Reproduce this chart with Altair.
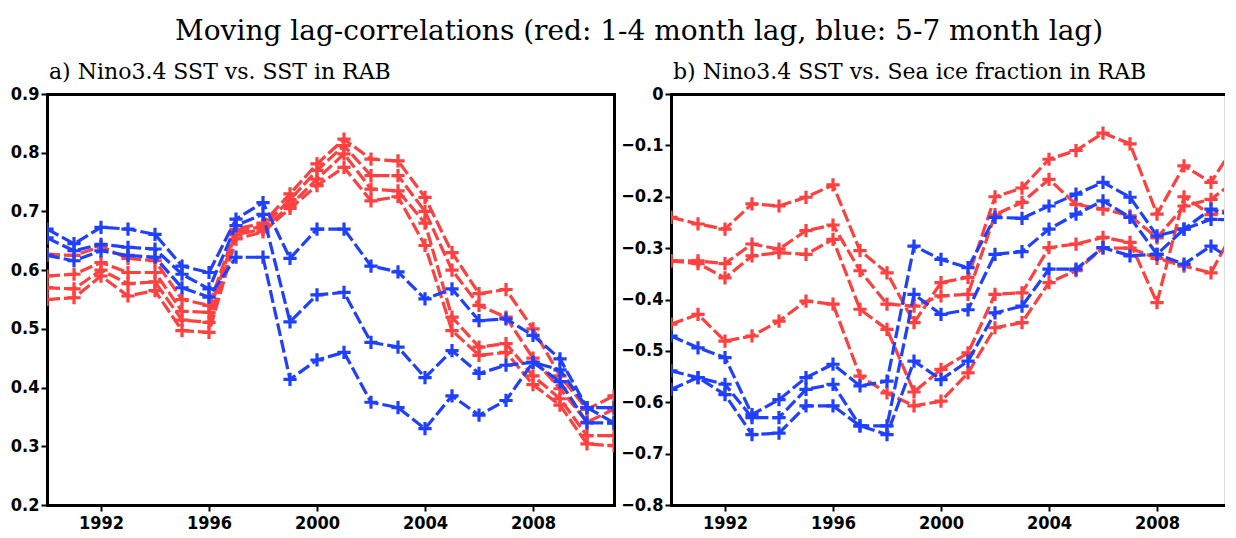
import altair as alt
import pandas as pd

years = list(range(1990, 2012))

# Panel a: Nino3.4 SST vs. SST in RAB  (red: 1-4 month lag)
a_red_1 = [0.627, 0.625, 0.640, 0.620, 0.616, 0.550, 0.540, 0.670, 0.680, 0.730, 0.781, 0.823, 0.789, 0.786, 0.724, 0.630, 0.560, 0.567, 0.500, 0.420, 0.363, 0.386]
a_red_2 = [0.590, 0.593, 0.613, 0.596, 0.596, 0.530, 0.528, 0.665, 0.675, 0.720, 0.770, 0.812, 0.761, 0.761, 0.700, 0.600, 0.540, 0.520, 0.450, 0.398, 0.341, 0.363]
a_red_3 = [0.570, 0.568, 0.600, 0.577, 0.580, 0.515, 0.511, 0.660, 0.670, 0.710, 0.755, 0.798, 0.738, 0.735, 0.680, 0.520, 0.469, 0.475, 0.420, 0.381, 0.318, 0.318]
a_red_4 = [0.550, 0.553, 0.590, 0.556, 0.565, 0.497, 0.494, 0.653, 0.665, 0.705, 0.744, 0.775, 0.718, 0.725, 0.642, 0.497, 0.455, 0.460, 0.405, 0.370, 0.304, 0.301]
# (blue: 5-7 month lag)
a_blue_1 = [0.670, 0.645, 0.673, 0.670, 0.661, 0.607, 0.596, 0.687, 0.715, 0.620, 0.670, 0.670, 0.607, 0.597, 0.551, 0.568, 0.514, 0.517, 0.489, 0.449, 0.366, 0.366]
a_blue_2 = [0.655, 0.633, 0.644, 0.639, 0.636, 0.593, 0.568, 0.676, 0.695, 0.512, 0.558, 0.562, 0.477, 0.469, 0.417, 0.463, 0.424, 0.438, 0.443, 0.430, 0.366, 0.340]
a_blue_3 = [0.625, 0.616, 0.633, 0.625, 0.622, 0.570, 0.554, 0.622, 0.622, 0.414, 0.447, 0.460, 0.375, 0.366, 0.330, 0.386, 0.353, 0.378, 0.443, 0.410, 0.340, 0.340]

# Panel b: Nino3.4 SST vs. Sea ice fraction in RAB
b_red_1 = [-0.240, -0.253, -0.263, -0.214, -0.218, -0.201, -0.177, -0.305, -0.348, -0.445, -0.367, -0.357, -0.200, -0.183, -0.127, -0.110, -0.076, -0.097, -0.234, -0.140, -0.172, -0.090]
b_red_2 = [-0.325, -0.325, -0.330, -0.292, -0.302, -0.266, -0.255, -0.344, -0.409, -0.413, -0.393, -0.390, -0.235, -0.211, -0.166, -0.215, -0.224, -0.237, -0.280, -0.218, -0.205, -0.165]
b_red_3 = [-0.325, -0.330, -0.358, -0.315, -0.309, -0.312, -0.283, -0.419, -0.458, -0.580, -0.536, -0.504, -0.390, -0.387, -0.299, -0.292, -0.279, -0.289, -0.406, -0.200, -0.235, -0.220]
b_red_4 = [-0.448, -0.429, -0.481, -0.471, -0.442, -0.403, -0.409, -0.549, -0.582, -0.607, -0.598, -0.543, -0.455, -0.445, -0.367, -0.344, -0.300, -0.300, -0.320, -0.335, -0.348, -0.250]
b_blue_1 = [-0.471, -0.494, -0.513, -0.624, -0.595, -0.552, -0.526, -0.568, -0.559, -0.296, -0.322, -0.338, -0.240, -0.242, -0.218, -0.195, -0.172, -0.201, -0.276, -0.263, -0.224, -0.240]
b_blue_2 = [-0.539, -0.552, -0.565, -0.630, -0.630, -0.575, -0.565, -0.646, -0.646, -0.390, -0.429, -0.420, -0.312, -0.307, -0.263, -0.234, -0.208, -0.240, -0.312, -0.263, -0.244, -0.245]
b_blue_3 = [-0.575, -0.552, -0.585, -0.663, -0.660, -0.607, -0.607, -0.646, -0.663, -0.520, -0.556, -0.520, -0.426, -0.413, -0.341, -0.341, -0.299, -0.315, -0.312, -0.331, -0.296, -0.330]

x_tick_years = [1992, 1996, 2000, 2004, 2008]
a_y_ticks = [0.2, 0.3, 0.4, 0.5, 0.6, 0.7, 0.8, 0.9]
b_y_ticks = [0.0, -0.1, -0.2, -0.3, -0.4, -0.5, -0.6, -0.7, -0.8]

RED = "#ff4040"
BLUE = "#2040ff"
PLUS = "M-1,0L1,0M0,-1L0,1"
LABEL_FONT = "Liberation Sans Narrow, DejaVu Sans Condensed, Liberation Sans, sans-serif"
SERIF = "DejaVu Serif"
LABEL_SIZE = 18


def frame(series_list, group):
    rows = []
    for i, s in enumerate(series_list):
        for yr, v in zip(years, s):
            rows.append({"year": yr, "value": v, "series": f"{group}{i}", "group": group})
    return pd.DataFrame(rows)


def edge_axis(orient):
    return alt.Axis(orient=orient, labels=False, ticks=False, grid=False,
                    domainColor="black", domainWidth=3, domainCap="square")


def panel(reds, blues, ydomain, yticks, ylabel_expr, xmax, width, title, right_frame):
    dred = frame(reds, "red")
    dblue = frame(blues, "blue")
    xscale = alt.Scale(domain=[1990, xmax], nice=False, zero=False)
    yscale = alt.Scale(domain=ydomain, nice=False, zero=False)
    color = alt.Color("group:N", scale=alt.Scale(domain=["red", "blue"], range=[RED, BLUE]), legend=None)

    x_bottom = alt.X("year:Q", scale=xscale, title=None,
                     axis=alt.Axis(values=x_tick_years, format="d", orient="bottom", grid=False,
                                   domainColor="black", domainWidth=3, domainCap="square",
                                   tickColor="black", tickWidth=2, tickSize=6,
                                   labelFont=LABEL_FONT, labelFontSize=LABEL_SIZE, labelFontWeight="bold",
                                   labelColor="black", labelPadding=3))
    y_left = alt.Y("value:Q", scale=yscale, title=None,
                   axis=alt.Axis(values=yticks, labelExpr=ylabel_expr, orient="left", grid=False,
                                 domainColor="black", domainWidth=3, domainCap="square",
                                 tickColor="black", tickWidth=2, tickSize=6,
                                 labelFont=LABEL_FONT, labelFontSize=LABEL_SIZE, labelFontWeight="bold",
                                 labelColor="black", labelPadding=2))
    x_top = alt.X("year:Q", scale=xscale, title=None, axis=edge_axis("top"))
    y_right = alt.Y("value:Q", scale=yscale, title=None, axis=edge_axis("right"))
    x_none = alt.X("year:Q", scale=xscale, axis=None)
    y_none = alt.Y("value:Q", scale=yscale, axis=None)

    line_style = dict(strokeWidth=3.2, strokeDash=[13, 4], clip=True)
    pt_style = dict(shape=PLUS, size=175, strokeWidth=3.2, filled=False, opacity=1, clip=True)
    inside = f"datum.year <= {xmax}"

    red_lines = alt.Chart(dred).mark_line(**line_style).encode(
        x=x_bottom, y=y_left, color=color, detail="series:N", order="year:Q")
    red_pts = alt.Chart(dred).mark_point(**pt_style).encode(
        x=x_top, y=y_none, color=color).transform_filter(inside)
    blue_lines = alt.Chart(dblue).mark_line(**line_style).encode(
        x=x_none, y=y_none, color=color, detail="series:N", order="year:Q")
    blue_pts = alt.Chart(dblue).mark_point(**pt_style).encode(
        x=x_none, y=(y_right if right_frame else y_none), color=color).transform_filter(inside)

    return alt.layer(red_lines, red_pts, blue_lines, blue_pts).resolve_axis(
        x="independent", y="independent"
    ).properties(
        width=width, height=411,
        title=alt.TitleParams(title, anchor="start", frame="group", font=SERIF, fontSize=22,
                              fontWeight="normal", color="black", offset=1, dx=2),
    )


pa = panel([a_red_1, a_red_2, a_red_3, a_red_4], [a_blue_1, a_blue_2, a_blue_3],
           [0.2, 0.9], a_y_ticks, "format(datum.value, '.1f')", 2011, 567,
           "a) Nino3.4 SST vs. SST in RAB", True)
pb = panel([b_red_1, b_red_2, b_red_3, b_red_4], [b_blue_1, b_blue_2, b_blue_3],
           [-0.8, 0.0], b_y_ticks, "datum.value == 0 ? '0' : format(datum.value, '.1f')",
           round(1990 + 553 / 27, 4), 553, "b) Nino3.4 SST vs. Sea ice fraction in RAB", False)

chart = alt.hconcat(pa, pb, spacing=5).properties(
    title=alt.TitleParams("Moving lag-correlations (red: 1-4 month lag, blue: 5-7 month lag)",
                          anchor="middle", font=SERIF, fontSize=28, fontWeight="normal",
                          color="black", offset=15, dx=22),
    padding={"left": 1, "top": 9, "right": 0, "bottom": 2},
).configure_view(stroke=None).configure(background="white")

chart.save("out.html", embed_options={"renderer": "svg", "actions": False})
